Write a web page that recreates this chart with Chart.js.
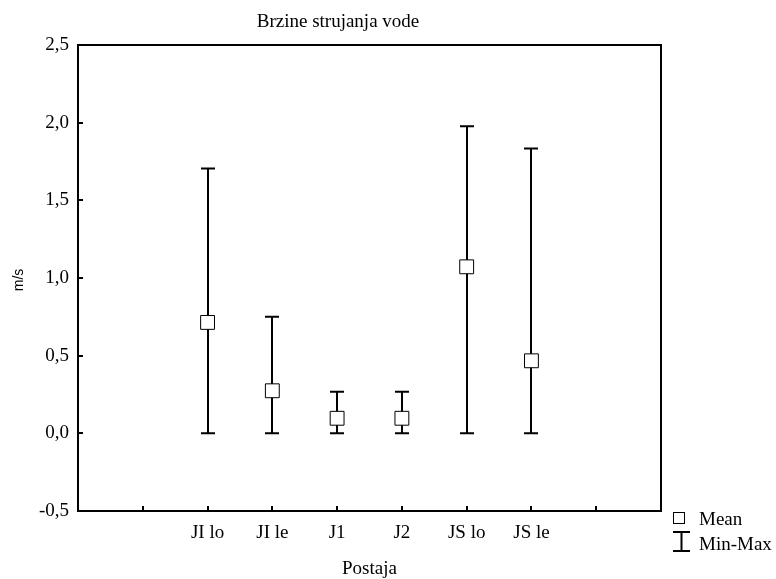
<!DOCTYPE html>
<html>
<head>
<meta charset="utf-8">
<script src="https://cdn.jsdelivr.net/npm/chart.js@4"></script>
<style>
  html, body { margin: 0; padding: 0; background: #fff; }
  #wrap { width: 776px; height: 579px; }
</style>
</head>
<body>
<div id="wrap"><canvas id="chart"></canvas></div>
<script>
// data
const categories = ['JI lo', 'JI le', 'J1', 'J2', 'JS lo', 'JS le'];
const meanValues = [0.714, 0.274, 0.097, 0.097, 1.072, 0.467];
const minValues = [0, 0, 0, 0, 0, 0];
const maxValues = [1.705, 0.75, 0.268, 0.268, 1.977, 1.834];
const yTicks = [-0.5, 0, 0.5, 1, 1.5, 2, 2.5];
const slotOffset = 2; // first category sits on the 2nd slot, 9 slots total

const serif = '"Liberation Serif", "Times New Roman", serif';

const meanPoints = meanValues.map((v, i) => ({ x: i + slotOffset, y: v }));

// whiskers, frame, inner ticks, title, axis titles, legend
const decor = {
    id: 'decor',
    beforeDatasetsDraw(chart) {
        const { ctx, scales: { x, y } } = chart;
        ctx.save();
        ctx.strokeStyle = '#000';
        ctx.lineWidth = 2;
        categories.forEach((c, i) => {
            const px = Math.round(x.getPixelForValue(i + slotOffset));
            const top = y.getPixelForValue(maxValues[i]);
            const bot = y.getPixelForValue(minValues[i]);
            ctx.beginPath();
            ctx.moveTo(px, top); ctx.lineTo(px, bot);
            ctx.moveTo(px - 7, top); ctx.lineTo(px + 7, top);
            ctx.moveTo(px - 7, bot); ctx.lineTo(px + 7, bot);
            ctx.stroke();
        });
        ctx.restore();
    },
    afterDraw(chart) {
        const { ctx, chartArea: a, scales: { x, y } } = chart;
        ctx.save();
        ctx.strokeStyle = '#000';
        ctx.lineWidth = 2;
        ctx.strokeRect(a.left, a.top, a.right - a.left, a.bottom - a.top);

        // inner tick marks
        ctx.beginPath();
        for (let k = 1; k <= 8; k++) {
            const px = Math.round(x.getPixelForValue(k));
            ctx.moveTo(px, a.bottom); ctx.lineTo(px, a.bottom - 5);
        }
        yTicks.slice(1, -1).forEach(v => {
            const py = Math.round(y.getPixelForValue(v));
            ctx.moveTo(a.left, py); ctx.lineTo(a.left + 5, py);
        });
        ctx.stroke();

        ctx.fillStyle = '#000';
        ctx.textBaseline = 'alphabetic';

        // title
        ctx.font = '19px ' + serif;
        ctx.textAlign = 'center';
        ctx.fillText('Brzine strujanja vode', 338, 27);

        // x axis title
        ctx.fillText('Postaja', (a.left + a.right) / 2, 574);

        // y axis title
        ctx.save();
        ctx.translate(19.5, 280);
        ctx.rotate(-Math.PI / 2);
        ctx.textBaseline = 'middle';
        ctx.font = '14px "Liberation Sans", Arial, sans-serif';
        ctx.fillText('m/s', 0, 0);
        ctx.restore();

        // legend
        ctx.textAlign = 'left';
        ctx.lineWidth = 1;
        ctx.strokeRect(673.5, 512.5, 11, 11);
        ctx.fillText('Mean', 699, 525);
        ctx.lineWidth = 2;
        ctx.beginPath();
        ctx.moveTo(673, 532); ctx.lineTo(690, 532);
        ctx.moveTo(681.5, 532); ctx.lineTo(681.5, 551);
        ctx.moveTo(673, 551); ctx.lineTo(690, 551);
        ctx.stroke();
        ctx.fillText('Min-Max', 699, 550);
        ctx.restore();
    }
};

new Chart(document.getElementById('chart'), {
    type: 'scatter',
    data: {
        datasets: [{
            label: 'Mean',
            data: meanPoints,
            pointStyle: 'rect',
            pointRadius: 9.8,
            pointHoverRadius: 9.8,
            pointBackgroundColor: '#fff',
            pointBorderColor: '#000',
            pointBorderWidth: 1
        }]
    },
    options: {
        responsive: true,
        maintainAspectRatio: false,
        animation: false,
        layout: { padding: { top: 45, right: 115, left: 0, bottom: 0 } },
        plugins: {
            legend: { display: false },
            tooltip: { enabled: false },
            title: { display: false }
        },
        scales: {
            x: {
                type: 'linear',
                min: 0,
                max: 9,
                afterFit: s => { s.height = 68; },
                afterBuildTicks: s => { s.ticks = [0, 1, 2, 3, 4, 5, 6, 7, 8, 9].map(v => ({ value: v })); },
                grid: { display: false, drawTicks: false },
                border: { display: false },
                ticks: {
                    color: '#000',
                    padding: 11,
                    maxRotation: 0,
                    autoSkip: false,
                    font: { family: serif, size: 19 },
                    callback: v => categories[v - slotOffset] || ''
                }
            },
            y: {
                min: -0.5,
                max: 2.5,
                afterFit: s => { s.width = 78; },
                afterBuildTicks: s => { s.ticks = yTicks.map(v => ({ value: v })); },
                grid: { display: false, drawTicks: false },
                border: { display: false },
                ticks: {
                    color: '#000',
                    padding: 9,
                    font: { family: serif, size: 19 },
                    callback: v => v.toFixed(1).replace('.', ',')
                }
            }
        }
    },
    plugins: [decor]
});
</script>
</body>
</html>
